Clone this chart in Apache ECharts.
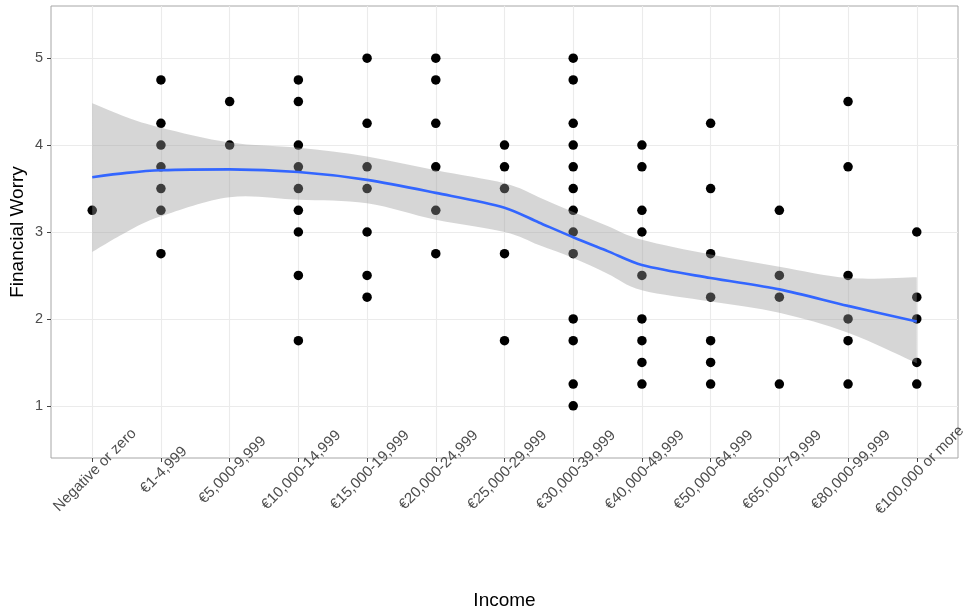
<!DOCTYPE html>
<html><head><meta charset="utf-8">
<script src="https://cdn.jsdelivr.net/npm/echarts@6/dist/echarts.min.js"></script>
<style>html,body{margin:0;padding:0;background:#fff}#c{width:968px;height:611px}</style>
</head><body><div id="c"></div>
<script>
const categories = ["Negative or zero","€1-4,999","€5,000-9,999","€10,000-14,999","€15,000-19,999","€20,000-24,999","€25,000-29,999","€30,000-39,999","€40,000-49,999","€50,000-64,999","€65,000-79,999","€80,000-99,999","€100,000 or more"];
const worryByIncome = [
  [3.25],
  [4.75,4.25,4.0,3.75,3.5,3.25,2.75],
  [4.5,4.0],
  [4.75,4.5,4.0,3.75,3.5,3.25,3.0,2.5,1.75],
  [5,4.25,3.75,3.5,3.0,2.5,2.25],
  [5,4.75,4.25,3.75,3.25,2.75],
  [4.0,3.75,3.5,2.75,1.75],
  [5,4.75,4.25,4.0,3.75,3.5,3.25,3.0,2.75,2.0,1.75,1.25,1.0],
  [4.0,3.75,3.25,3.0,2.5,2.0,1.75,1.5,1.25],
  [4.25,3.5,2.75,2.25,1.75,1.5,1.25],
  [3.25,2.5,2.25,1.25],
  [4.5,3.75,2.5,2.0,1.75,1.25],
  [3.0,2.25,2.0,1.5,1.25]
];
const fitX     = [0,0.5,1,2,3,4,5,6,6.5,7,7.5,8,9,10,11,12];
const fitY     = [3.63,3.68,3.71,3.72,3.69,3.60,3.45,3.28,3.11,2.94,2.78,2.62,2.47,2.34,2.15,1.97];
const fitLower = [2.77,3.00,3.18,3.40,3.37,3.33,3.14,3.00,2.85,2.70,2.52,2.33,2.20,2.07,1.84,1.49];
const fitUpper = [4.48,4.32,4.20,4.03,3.97,3.87,3.71,3.56,3.40,3.23,3.07,2.91,2.74,2.60,2.47,2.48];
const xTicks = categories.map((c,i)=>i);
const yTicks = [1,2,3,4,5];

const points = [];
worryByIncome.forEach((vals,i)=>vals.forEach(v=>points.push([i,v])));
const bandData = fitX.map((x,i)=>[x,fitLower[i],fitUpper[i]]);
const fitData = fitX.map((x,i)=>[x,fitY[i]]);

function smoothPath(pts, moveFirst){
  // Catmull-Rom spline through the given pixel points, as SVG path commands
  let d = (moveFirst?'M':'L') + pts[0][0] + ' ' + pts[0][1];
  for(let i=0;i<pts.length-1;i++){
    const p0=pts[Math.max(i-1,0)], p1=pts[i], p2=pts[i+1], p3=pts[Math.min(i+2,pts.length-1)];
    const c1=[p1[0]+(p2[0]-p0[0])/6, p1[1]+(p2[1]-p0[1])/6];
    const c2=[p2[0]-(p3[0]-p1[0])/6, p2[1]-(p3[1]-p1[1])/6];
    d += ' C'+c1[0]+' '+c1[1]+' '+c2[0]+' '+c2[1]+' '+p2[0]+' '+p2[1];
  }
  return d;
}

const font = 'Liberation Sans, Arial, Helvetica, sans-serif';
const chart = echarts.init(document.getElementById('c'));
chart.setOption({
  animation:false,
  backgroundColor:'#fff',
  grid:{left:51,right:10,top:6,bottom:153,outerBoundsMode:'none',containLabel:false,show:true,borderColor:'#a6a6a6',borderWidth:1,backgroundColor:'#fff'},
  xAxis:{type:'value',min:-0.6,max:12.6,
    name:'Income',nameLocation:'middle',nameGap:133,nameMoveOverlap:false,
    nameTextStyle:{fontFamily:font,fontSize:19,color:'#000'},
    axisLine:{show:false,onZero:false},
    axisTick:{show:true,customValues:xTicks,length:4,lineStyle:{color:'#444'}},
    axisLabel:{customValues:xTicks,formatter:v=>categories[Math.round(v)],rotate:45,align:'center',verticalAlign:'middle',margin:15,
      padding:[8,0,0,8],fontFamily:font,fontSize:15,color:'#4d4d4d'},
    splitLine:{show:true,lineStyle:{color:'#ebebeb',width:1.1}}
  },
  yAxis:{type:'value',min:0.4,max:5.6,
    name:'Financial Worry',nameLocation:'middle',nameGap:24,nameMoveOverlap:false,
    nameTextStyle:{fontFamily:font,fontSize:19,color:'#000'},
    axisLine:{show:false,onZero:false},
    axisTick:{show:true,customValues:yTicks,length:4,lineStyle:{color:'#444'}},
    axisLabel:{customValues:yTicks,margin:8,fontFamily:font,fontSize:14.5,color:'#4d4d4d'},
    splitLine:{show:true,lineStyle:{color:'#ebebeb',width:1.1}}
  },
  series:[
    {type:'scatter',data:points,symbolSize:9.5,itemStyle:{color:'#000',opacity:1},z:2},
    {type:'custom',data:bandData,z:3,silent:true,
      encode:{x:0,y:[1,2]},
      renderItem:function(params,api){
        if(params.dataIndex!==0) return null;
        const up = bandData.map(d=>api.coord([d[0],d[2]]));
        const lo = bandData.map(d=>api.coord([d[0],d[1]])).reverse();
        const path = smoothPath(up,true)+' '+smoothPath(lo,false)+' Z';
        return {type:'path',shape:{pathData:path},style:{fill:'rgba(153,153,153,0.4)',stroke:null}};
      }},
    {type:'line',data:fitData,smooth:0.3,symbol:'none',lineStyle:{color:'#3366FF',width:2.6},z:4}
  ]
});
</script></body></html>
